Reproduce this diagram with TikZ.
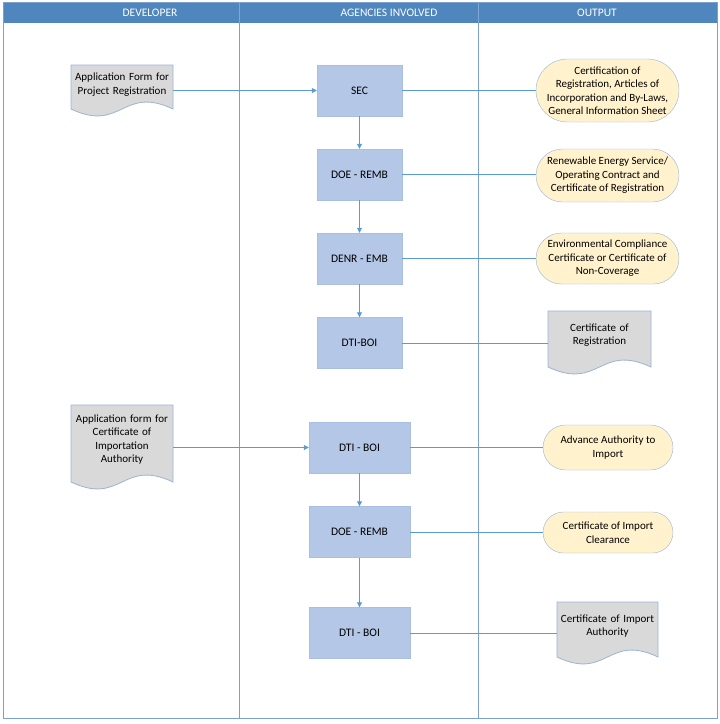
\documentclass[tikz,border=0pt]{standalone}
\usepackage{fontspec}
\setmainfont{Carlito}
\usetikzlibrary{arrows.meta,calc}
\definecolor{hdr}{HTML}{4F86BD}
\definecolor{hdrline}{HTML}{7FA7D3}
\definecolor{frame}{HTML}{7DA0CC}
\definecolor{conn}{HTML}{5B9BD5}
\definecolor{boxfill}{HTML}{B4C7E7}
\definecolor{boxline}{HTML}{A8BFE2}
\definecolor{termfill}{HTML}{FFF2CC}
\definecolor{termline}{HTML}{9AB3D9}
\definecolor{docfill}{HTML}{D9D9D9}
\definecolor{docline}{HTML}{9AB3D9}
\newcommand\docshape[4]{%
  \filldraw[docsty] (#1,#3) -- (#2,#3) -- (#2,#4)
    .. controls ({(#1+#2)/2},{#4-24}) and ({(#1+#2)/2},{#4+24}) .. (#1,#4) -- cycle;}
\begin{document}
\begin{tikzpicture}[x=1pt,y=-1pt,
  every node/.style={font=\fontsize{11}{13.5}\selectfont},
  agency/.style={draw=boxline, fill=boxfill, minimum height=51pt, inner sep=0pt, font=\fontsize{11.5}{13.5}\selectfont},
  term/.style={draw=termline, fill=termfill, align=center, inner sep=0pt},
  doctext/.style={align=center, inner sep=0pt},
  docsty/.style={draw=docline, fill=docfill, line width=0.8pt},
  ln/.style={draw=conn, line width=0.8pt},
  arr/.style={ln, -{Triangle[length=5pt,width=5pt]}},
  hdrtext/.style={text=white, font=\fontsize{11.5}{13}\selectfont},
  framesty/.style={draw=frame, line width=0.9pt}
]
\useasboundingbox (0,0) rectangle (720,724);
% header and frame
\fill[hdr] (3,2) rectangle (717,23);
\draw[hdrline, line width=0.8pt] (239,2) -- (239,23) (478,2) -- (478,23);
\draw[framesty] (3,2) rectangle (717,718);
\draw[framesty] (239,23) -- (239,718) (478,23) -- (478,718);
\node[hdrtext] (h1) at (150,12.5) {DEVELOPER};
\node[hdrtext] (h2) at (389,12.5) {AGENCIES INVOLVED};
\node[hdrtext] (h3) at (597,12.5) {OUTPUT};

% developer documents
\docshape{71}{173}{65}{109}
\node[doctext, text width=102pt, minimum height=39pt] (d1) at (122,84.5) {Application Form for\\Project Registration};
\docshape{71}{173}{405}{482}
\node[doctext, text width=102pt, minimum height=69pt] (d2) at (122,439.5) {Application form for\\Certificate of\\Importation\\Authority};

% agencies group 1
\node[agency, minimum width=85pt] (sec) at (359.5,90.5) {SEC};
\node[agency, minimum width=85pt] (doe1) at (359.5,174.5) {DOE - REMB};
\node[agency, minimum width=85pt] (denr) at (359.5,258.5) {DENR - EMB};
\node[agency, minimum width=85pt] (dti1) at (359.5,343) {DTI-BOI};
% agencies group 2
\node[agency, minimum width=101pt] (dti2) at (359.5,447.5) {DTI - BOI};
\node[agency, minimum width=101pt] (doe2) at (359.5,532) {DOE - REMB};
\node[agency, minimum width=101pt] (dti3) at (359.5,633) {DTI - BOI};

% outputs
\node[term, minimum width=143pt, minimum height=63pt, rounded corners=31.5pt] (o1) at (607.5,90.5)
  {Certification of\\Registration, Articles of\\Incorporation and By-Laws,\\General Information Sheet};
\node[term, minimum width=143pt, minimum height=53pt, rounded corners=26.5pt] (o2) at (607.5,175.5)
  {Renewable Energy Service/\\Operating Contract and\\Certificate of Registration};
\node[term, minimum width=143pt, minimum height=51pt, rounded corners=25.5pt] (o3) at (607.5,258.5)
  {Environmental Compliance\\Certificate or Certificate of\\Non-Coverage};
\docshape{548}{651}{311}{367}
\node[doctext, text width=103pt, minimum height=48pt] (o4) at (599.5,335) {Certificate of\\Registration};
\node[term, minimum width=130pt, minimum height=45pt, rounded corners=22.5pt] (o5) at (608,447.5)
  {Advance Authority to\\Import};
\node[term, minimum width=130pt, minimum height=41pt, rounded corners=20.5pt] (o6) at (608,532.5)
  {Certificate of Import\\Clearance};
\docshape{557}{658}{602}{657}
\node[doctext, text width=101pt, minimum height=48pt] (o7) at (607.5,626) {Certificate of Import\\Authority};

% connectors
\draw[arr] (d1.east |- sec.west) -- (sec.west);
\draw[arr] (sec) -- (doe1);
\draw[arr] (doe1) -- (denr);
\draw[arr] (denr) -- (dti1);
\draw[ln] (sec.east) -- (o1.west);
\draw[ln] (doe1.east) -- (doe1.east -| o2.west);
\draw[ln] (denr.east) -- (o3.west);
\draw[ln] (dti1.east) -- (dti1.east -| o4.west);
\draw[arr] (d2.east |- dti2.west) -- (dti2.west);
\draw[arr] (dti2) -- (doe2);
\draw[arr] (doe2) -- (dti3);
\draw[ln] (dti2.east) -- (o5.west);
\draw[ln] (doe2.east) -- (doe2.east -| o6.west);
\draw[ln] (dti3.east) -- (dti3.east -| o7.west);
\end{tikzpicture}
\end{document}
